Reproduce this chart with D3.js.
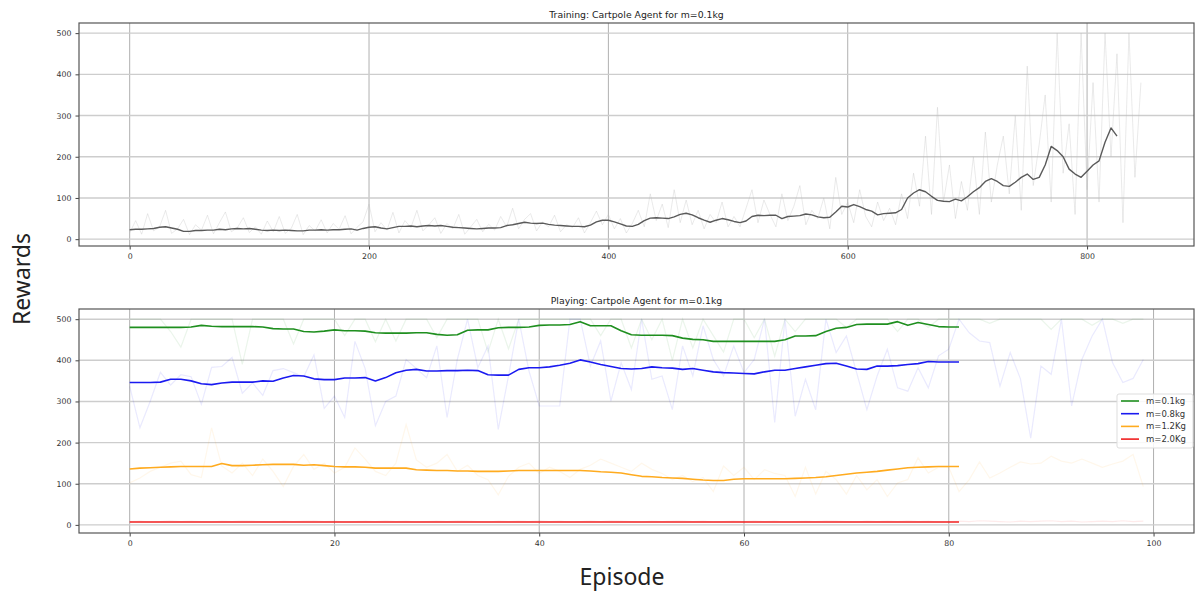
<!DOCTYPE html>
<html>
<head>
<meta charset="utf-8">
<script src="https://cdn.jsdelivr.net/npm/d3@7"></script>
<style>
  body { margin: 0; background: #fff; }
  svg text { font-family: 'DejaVu Sans', sans-serif; }
</style>
</head>
<body>
<div id="chart"></div>
<script>
// Training rewards, one value every 5 episodes
var trainStep = 5;
var trainRaw = [
  15, 45, 12, 62, 20, 30, 70, 14, 25, 48, 11, 35, 22, 58, 13, 40, 66, 18, 28, 52, 16,
  30, 12, 44, 18, 55, 14, 26, 60, 11, 33, 20, 47, 15, 38, 24, 57, 13, 29, 42, 85,
  18, 40, 22, 65, 15, 45, 28, 70, 20, 35, 52, 14, 38, 25, 60, 12, 30, 48, 18, 36,
  22, 55, 30, 75, 25, 48, 62, 20, 42, 30, 58, 18, 35, 28, 52, 15, 40, 68, 35, 60,
  25, 50, 15, 38, 70, 30, 110, 45, 85, 28, 120, 40, 95, 35, 70, 25, 60, 40, 90, 30,
  55, 30, 75, 120, 40, 95, 60, 30, 110, 45, 80, 130, 35, 70, 50, 100, 25, 150, 60, 90,
  40, 120, 55, 30, 90, 45, 75, 35, 110, 50, 160, 80, 250, 60, 320, 90, 180, 50, 140, 70,
  200, 60, 260, 90, 180, 250, 110, 300, 70, 420, 130, 230, 350, 90, 500, 160, 280, 60, 500, 120,
  380, 90, 500, 200, 450, 40, 500, 150, 380
];
var trainSmooth = [
  23, 24, 24, 25, 26, 29, 30, 27, 24, 19, 19, 21, 21, 22, 22, 24, 23, 25, 26, 25,
  26, 24, 22, 21, 22, 21, 22, 21, 20, 20, 22, 22, 23, 22, 23, 23, 24, 25, 22, 26,
  29, 30, 27, 25, 28, 31, 31, 32, 30, 32, 33, 32, 33, 31, 29, 28, 27, 26, 25, 26,
  27, 27, 28, 33, 35, 38, 41, 39, 38, 39, 36, 34, 33, 32, 31, 31, 30, 34, 42, 46,
  46, 42, 37, 32, 31, 36, 45, 51, 52, 51, 50, 54, 60, 63, 59, 52, 46, 41, 46, 50,
  47, 43, 40, 44, 55, 58, 57, 58, 58, 50, 55, 56, 57, 61, 59, 54, 52, 53, 66, 80,
  78, 84, 79, 72, 68, 59, 62, 63, 64, 72, 100, 112, 120, 115, 104, 94, 92, 91, 97, 93,
  103, 115, 125, 140, 147, 140, 130, 128, 138, 150, 158, 145, 150, 180, 225, 215, 200, 170, 158, 150,
  165, 180, 190, 235, 270, 250
];

// Playing rewards, episodes 0..99 (raw) and moving average 0..81
var playSeries = ['m=0.1kg', 'm=0.8kg', 'm=1.2Kg', 'm=2.0Kg'];
var playColors = ['#1f8f1f', '#1a1af0', '#ffab1f', '#f02020'];
var rawM01 = [
  500, 500, 500, 500, 470, 432, 500, 500, 500, 500, 500, 390, 500, 500, 500, 500, 440, 500, 500, 500,
  500, 460, 500, 500, 445, 500, 447, 500, 500, 500, 455, 500, 500, 500, 500, 420, 500, 428, 500, 500,
  500, 500, 500, 500, 500, 500, 460, 500, 500, 430, 500, 450, 500, 400, 500, 430, 500, 460, 420, 500,
  500, 455, 500, 410, 500, 470, 500, 500, 500, 500, 480, 500, 500, 500, 500, 470, 500, 500, 480, 500,
  500, 500, 500, 500, 490, 500, 500, 500, 500, 500, 475, 500, 500, 500, 485, 500, 500, 490, 500, 500
];
var rawM08 = [
  337, 236, 300, 371, 340, 365, 360, 293, 383, 385, 407, 320, 345, 315, 375, 380, 370, 360, 413, 283,
  313, 261, 446, 380, 241, 300, 313, 402, 380, 358, 435, 261, 402, 500, 382, 435, 232, 362, 500, 374,
  289, 289, 289, 500, 500, 386, 447, 301, 394, 329, 500, 354, 362, 280, 435, 362, 484, 402, 362, 435,
  370, 402, 500, 249, 500, 264, 354, 280, 500, 419, 459, 370, 280, 362, 427, 333, 325, 382, 333, 411,
  427, 500, 467, 447, 443, 337, 419, 355, 211, 386, 366, 500, 289, 402, 459, 500, 394, 346, 356, 402
];
var rawM12 = [
  102, 114, 130, 140, 150, 155, 122, 115, 236, 143, 126, 150, 120, 160, 130, 93, 142, 171, 135, 150,
  126, 140, 187, 160, 130, 120, 150, 244, 158, 140, 150, 171, 130, 145, 120, 110, 73, 118, 140, 150,
  125, 140, 130, 115, 135, 145, 160, 150, 140, 130, 150, 135, 125, 110, 120, 105, 115, 81, 143, 120,
  140, 110, 134, 125, 120, 69, 140, 75, 130, 110, 75, 120, 85, 110, 69, 102, 110, 163, 126, 140,
  140, 81, 110, 153, 114, 126, 140, 153, 148, 150, 167, 155, 150, 160, 150, 140, 148, 155, 171, 93
];
var rawM20 = [
  8, 9, 7, 8, 10, 8, 9, 8, 7, 9, 8, 10, 9, 8, 7, 9, 8, 9, 10, 8,
  9, 7, 8, 9, 8, 10, 8, 9, 7, 8, 9, 8, 10, 9, 8, 7, 9, 8, 9, 8,
  10, 8, 9, 7, 8, 9, 8, 10, 9, 8, 7, 9, 8, 9, 10, 8, 9, 7, 8, 9,
  8, 10, 8, 9, 7, 8, 9, 8, 10, 9, 8, 7, 9, 8, 9, 8, 10, 8, 9, 7,
  8, 9, 8, 10, 9, 8, 7, 9, 8, 9, 10, 8, 9, 7, 8, 9, 8, 10, 8, 9
];
var avgM01 = [
  480, 480, 480, 480, 480, 480, 481, 485, 483, 482, 482, 482, 482, 481, 477, 476, 476, 470, 469, 471,
  474, 472, 472, 471, 467, 466, 466, 466, 467, 467, 463, 461, 462, 473, 474, 474, 479, 480, 480, 481,
  485, 486, 486, 487, 494, 484, 484, 484, 472, 462, 461, 461, 461, 460, 454, 451, 450, 446, 446, 446,
  446, 446, 446, 446, 450, 459, 459, 460, 470, 478, 480, 487, 488, 488, 488, 494, 485, 492, 487, 482,
  481, 481
];
var avgM08 = [
  346, 346, 346, 347, 354, 354, 350, 343, 341, 345, 347, 347, 347, 350, 349, 357, 363, 362, 355, 353,
  353, 357, 357, 358, 350, 358, 370, 376, 378, 374, 374, 375, 375, 376, 375, 365, 364, 364, 378, 382,
  382, 384, 388, 393, 401, 396, 390, 385, 380, 379, 380, 384, 382, 381, 378, 380, 376, 372, 370, 369,
  368, 367, 372, 376, 376, 380, 384, 388, 392, 393, 386, 379, 378, 386, 386, 387, 390, 392, 397, 396,
  396, 396
];
var avgM12 = [
  136, 138, 139, 140, 141, 142, 142, 142, 142, 149, 144, 144, 145, 146, 147, 147, 147, 145, 146, 144,
  142, 141, 141, 140, 138, 138, 138, 138, 134, 133, 132, 132, 131, 131, 130, 130, 130, 131, 132, 132,
  132, 132, 132, 132, 132, 131, 129, 128, 126, 122, 118, 117, 115, 114, 113, 111, 109, 108, 108, 111,
  112, 112, 112, 112, 112, 113, 114, 115, 117, 120, 123, 126, 128, 130, 133, 136, 139, 140, 141, 142,
  142, 142
];
var avgM20 = [
  7, 7, 7, 7, 7, 7, 7, 7, 7, 7, 7, 7, 7, 7, 7, 7, 7, 7, 7, 7,
  7, 7, 7, 7, 7, 7, 7, 7, 7, 7, 7, 7, 7, 7, 7, 7, 7, 7, 7, 7,
  7, 7, 7, 7, 7, 7, 7, 7, 7, 7, 7, 7, 7, 7, 7, 7, 7, 7, 7, 7,
  7, 7, 7, 7, 7, 7, 7, 7, 7, 7, 7, 7, 7, 7, 7, 7, 7, 7, 7, 7,
  7, 7
];

var rewardTicks = [0, 100, 200, 300, 400, 500];
var trainTicks = [0, 200, 400, 600, 800];
var playTicks = [0, 20, 40, 60, 80, 100];

(function () {
  var width = 1195, height = 592;
  var left = 79, right = 1194;
  var tickFont = '7.8px', titleFont = '9.3px';

  var svg = d3.select('#chart')
    .append('svg')
    .attr('width', width)
    .attr('height', height);

  function panel(opts) {
    var x = d3.scaleLinear().domain(opts.xDomain).range([left, right]);
    var y = d3.scaleLinear().domain(opts.yDomain).range([opts.bottom, opts.top]);
    var g = svg.append('g');

    // grid
    g.append('g').selectAll('line')
      .data(opts.xTicks)
      .enter()
      .append('line')
      .attr('x1', function(d) { return x(d); })
      .attr('x2', function(d) { return x(d); })
      .attr('y1', opts.top)
      .attr('y2', opts.bottom)
      .attr('stroke', '#b0b0b0')
      .attr('stroke-width', 1);

    g.append('g').selectAll('line')
      .data(rewardTicks)
      .enter()
      .append('line')
      .attr('x1', left)
      .attr('x2', right)
      .attr('y1', function(d) { return y(d); })
      .attr('y2', function(d) { return y(d); })
      .attr('stroke', '#cdcdcd')
      .attr('stroke-width', 1.4);

    var xAxis = g.append('g')
      .attr('transform', 'translate(0,' + opts.bottom + ')')
      .call(d3.axisBottom(x).tickValues(opts.xTicks).tickSize(3.5).tickPadding(4));
    var yAxis = g.append('g')
      .attr('transform', 'translate(' + left + ',0)')
      .call(d3.axisLeft(y).tickValues(rewardTicks).tickSize(3.5).tickPadding(4));

    [xAxis, yAxis].forEach(function(a) {
      a.select('.domain').remove();
      a.selectAll('line').attr('stroke', '#444');
      a.selectAll('text')
        .style('font-size', tickFont)
        .style('font-family', "'DejaVu Sans', sans-serif")
        .attr('fill', '#333');
    });

    g.append('text')
      .text(opts.title)
      .attr('x', (left + right) / 2)
      .attr('y', opts.top - 5)
      .style('font-size', titleFont)
      .style('text-anchor', 'middle')
      .style('fill', '#222');

    var plot = g.append('g');

    g.append('rect')
      .attr('x', left)
      .attr('y', opts.top)
      .attr('width', right - left)
      .attr('height', opts.bottom - opts.top)
      .attr('fill', 'none')
      .attr('stroke', '#555')
      .attr('stroke-width', 1.2);

    return { x: x, y: y, g: plot };
  }

  // Training panel
  var top = panel({
    top: 23, bottom: 246,
    xDomain: [-42.35, 889.35], yDomain: [-16.6, 524.6],
    xTicks: trainTicks,
    title: 'Training: Cartpole Agent for m=0.1kg'
  });

  var trainLine = d3.line()
    .x(function(d, i) { return top.x(i * trainStep); })
    .y(function(d) { return top.y(d); });

  top.g.append('path')
    .datum(trainRaw)
    .attr('fill', 'none')
    .attr('stroke', '#bbb')
    .attr('stroke-opacity', 0.3)
    .attr('stroke-width', 1)
    .attr('d', trainLine);

  top.g.append('path')
    .datum(trainSmooth)
    .attr('fill', 'none')
    .attr('stroke', '#5a5a5a')
    .attr('stroke-width', 1.4)
    .attr('stroke-linejoin', 'round')
    .attr('d', trainLine);

  // Playing panel
  var bot = panel({
    top: 309, bottom: 533,
    xDomain: [-4.95, 103.95], yDomain: [-19.75, 524.75],
    xTicks: playTicks,
    title: 'Playing: Cartpole Agent for m=0.1kg'
  });

  var playLine = d3.line()
    .x(function(d, i) { return bot.x(i); })
    .y(function(d) { return bot.y(d); });

  var raws = [rawM01, rawM08, rawM12, rawM20];
  var avgs = [avgM01, avgM08, avgM12, avgM20];

  raws.forEach(function(r, k) {
    bot.g.append('path')
      .datum(r)
      .attr('fill', 'none')
      .attr('stroke', playColors[k])
      .attr('stroke-opacity', 0.09)
      .attr('stroke-width', 1.2)
      .attr('d', playLine);
  });

  avgs.forEach(function(a, k) {
    bot.g.append('path')
      .datum(a)
      .attr('fill', 'none')
      .attr('stroke', playColors[k])
      .attr('stroke-width', 1.6)
      .attr('stroke-linejoin', 'round')
      .attr('d', playLine);
  });

  // legend
  var legend = svg.append('g')
    .attr('transform', 'translate(1117, 394)');

  legend.append('rect')
    .attr('width', 76)
    .attr('height', 54)
    .attr('rx', 2)
    .attr('fill', '#fff')
    .attr('fill-opacity', 0.85)
    .attr('stroke', '#ddd');

  var items = legend.selectAll('g.item')
    .data(playSeries)
    .enter()
    .append('g')
    .attr('class', 'item')
    .attr('transform', function(d, i) { return 'translate(0,' + (7 + i * 12.7) + ')'; });

  items.append('line')
    .attr('x1', 4)
    .attr('x2', 22)
    .attr('stroke', function(d, i) { return playColors[i]; })
    .attr('stroke-width', 1.6);

  items.append('text')
    .text(function(d) { return d; })
    .attr('x', 29)
    .attr('dy', '0.35em')
    .style('font-size', '8.5px')
    .style('fill', '#333');

  // shared labels
  svg.append('text')
    .text('Rewards')
    .attr('transform', 'translate(30, 279) rotate(-90)')
    .style('font-family', "'Noto Sans', sans-serif")
    .style('font-size', '23px')
    .style('text-anchor', 'middle')
    .style('fill', '#222');

  svg.append('text')
    .text('Episode')
    .attr('x', 622)
    .attr('y', 585)
    .style('font-family', "'Noto Sans', sans-serif")
    .style('font-size', '23px')
    .style('text-anchor', 'middle')
    .style('fill', '#222');
}());
</script>
</body>
</html>
